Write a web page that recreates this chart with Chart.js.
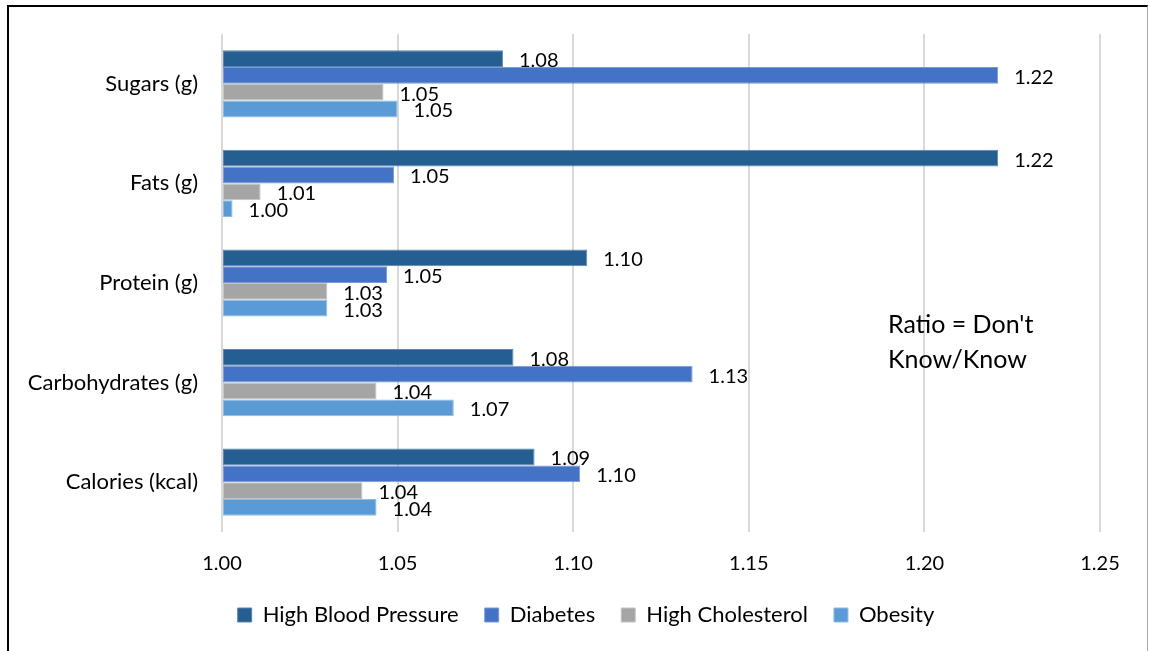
<!DOCTYPE html>
<html>
<head>
<meta charset="utf-8">
<script src="https://cdn.jsdelivr.net/npm/chart.js@4.4.1/dist/chart.umd.min.js"></script>
<style>
  html, body { margin: 0; padding: 0; background: #fff; }
  #wrap { position: relative; width: 1149px; height: 651px; overflow: hidden; }
  #frame { position: absolute; left: 7px; top: 5px; width: 1138px; height: 700px;
           border-left: 2px solid #000; border-top: 2px solid #000; border-right: 1px solid #aaa; }
  canvas { position: absolute; left: 0; top: 0; }
  #note { position: absolute; left: 888px; top: 306px; font-family: Lato, sans-serif;
          font-size: 25px; line-height: 35px; color: #000; }
</style>
</head>
<body>
<div id="wrap">
  <div id="frame"></div>
  <canvas id="c" width="1149" height="651"></canvas>
  <div id="note">Ratio = Don't<br>Know/Know</div>
</div>
<script>
// Nutrient categories and the Don't Know / Know ratio for each condition
const categories = ['Sugars (g)', 'Fats (g)', 'Protein (g)', 'Carbohydrates (g)', 'Calories (kcal)'];
const highBloodPressure = [1.080, 1.221, 1.104, 1.083, 1.089];
const diabetes          = [1.221, 1.049, 1.047, 1.134, 1.102];
const highCholesterol   = [1.046, 1.011, 1.030, 1.044, 1.040];
const obesity           = [1.050, 1.003, 1.030, 1.066, 1.044];
const xTicks = [1.00, 1.05, 1.10, 1.15, 1.20, 1.25];

const FONT = 'Lato, sans-serif';

// Value labels drawn just past the end of each bar
const valueLabels = {
  id: 'valueLabels',
  afterDatasetsDraw(chart) {
    const ctx = chart.ctx;
    ctx.save();
    ctx.font = '20px ' + FONT;
    ctx.fillStyle = '#000';
    ctx.textAlign = 'left';
    ctx.textBaseline = 'middle';
    chart.data.datasets.forEach((ds, i) => {
      chart.getDatasetMeta(i).data.forEach((bar, j) => {
        ctx.fillText(ds.data[j].toFixed(2), bar.x + 16, bar.y + 2);
      });
    });
    ctx.restore();
  }
};

// Centre the legend row under the plot area rather than the whole canvas
const legendShift = {
  id: 'legendShift',
  afterLayout(chart) {
    const lg = chart.legend;
    if (lg) { lg.left += 36; lg.right += 36; }
  }
};

new Chart(document.getElementById('c'), {
  type: 'bar',
  data: {
    labels: categories,
    datasets: [
      { label: 'High Blood Pressure', data: highBloodPressure, backgroundColor: '#255E91', borderColor: '#5C86B0' },
      { label: 'Diabetes',            data: diabetes,          backgroundColor: '#4472C4', borderColor: '#7A9AD6' },
      { label: 'High Cholesterol',    data: highCholesterol,   backgroundColor: '#A5A5A5', borderColor: '#C4C4C4' },
      { label: 'Obesity',             data: obesity,           backgroundColor: '#5B9BD5', borderColor: '#8DBBE3' }
    ]
  },
  options: {
    indexAxis: 'y',
    responsive: false,
    animation: false,
    devicePixelRatio: 1,
    layout: { padding: { left: 0, right: 49, top: 34, bottom: 15 } },
    datasets: {
      bar: { barPercentage: 1.0, categoryPercentage: 0.675, borderWidth: 1, borderSkipped: false, base: 1.0 }
    },
    scales: {
      x: {
        type: 'linear',
        min: 1.00,
        max: 1.25,
        afterBuildTicks(scale) { scale.ticks = xTicks.map(v => ({ value: v })); },
        afterFit(scale) { scale.height = 46; },
        grid: { color: '#D9D9D9', lineWidth: 2, drawTicks: false },
        border: { display: false },
        ticks: {
          padding: 20,
          color: '#000',
          font: { family: FONT, size: 20 },
          callback: v => Number(v).toFixed(2)
        }
      },
      y: {
        afterFit(scale) { scale.width = 222; },
        grid: { display: false },
        border: { display: false },
        ticks: {
          padding: 16,
          color: '#000',
          font: { family: FONT, size: 22 }
        }
      }
    },
    plugins: {
      legend: {
        position: 'bottom',
        labels: {
          boxWidth: 14,
          boxHeight: 14,
          padding: 26,
          color: '#000',
          font: { family: FONT, size: 22 }
        }
      },
      tooltip: { enabled: false }
    }
  },
  plugins: [valueLabels, legendShift]
});
</script>
</body>
</html>
